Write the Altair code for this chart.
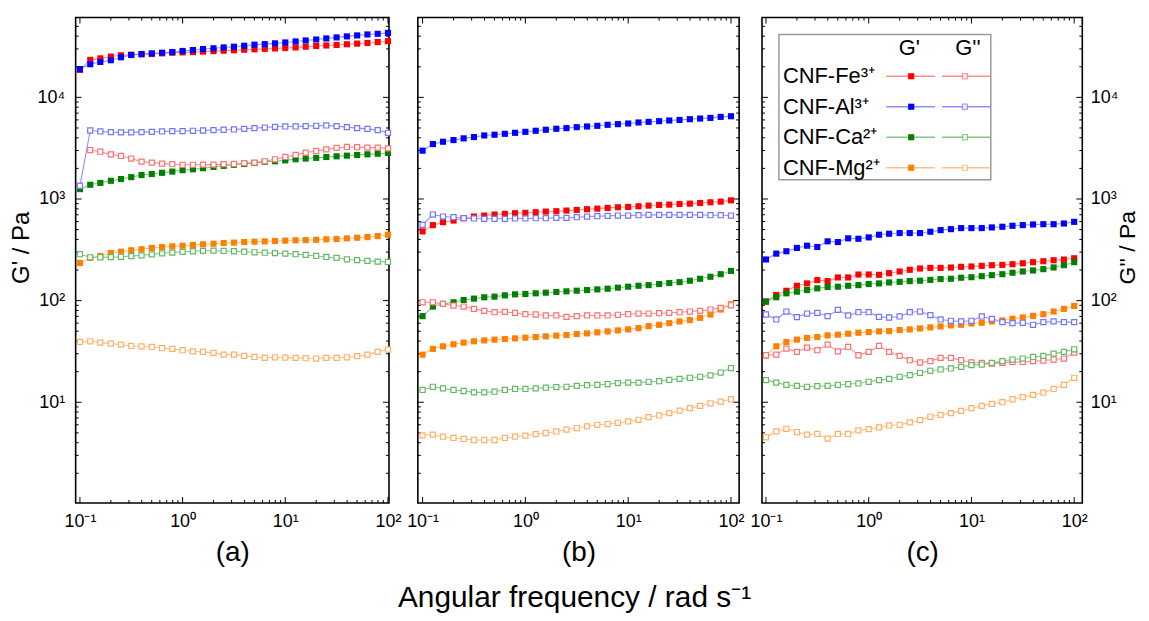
import altair as alt
import pandas as pd

# ---------------- data ----------------
FREQ = [0.1, 0.126, 0.158, 0.2, 0.251, 0.316, 0.398, 0.501, 0.631, 0.794,
        1.0, 1.26, 1.58, 2.0, 2.51, 3.16, 3.98, 5.01, 6.31, 7.94,
        10.0, 12.6, 15.8, 20.0, 25.1, 31.6, 39.8, 50.1, 63.1, 79.4, 100.0]

IONS = ["CNF-Fe³⁺", "CNF-Al³⁺", "CNF-Ca²⁺", "CNF-Mg²⁺"]
DARK = ["#ff0000", "#0000ff", "#008000", "#ff7f00"]
LIGHT = ["#ff7070", "#7373ff", "#66b866", "#ffb066"]

# panel (a)
A_FE_G1 = [18600, 23400, 24200, 25200, 25900, 26300, 26500, 26700, 27100, 27500, 27700, 27900, 28200, 28500, 28800, 29100,
           29400, 29700, 30000, 30300, 30600, 31000, 31500, 32000, 32400, 32800, 33300, 33800, 34300, 35000, 35700]
A_AL_G1 = [19000, 21200, 22300, 23200, 24800, 26100, 26700, 27100, 27500, 27900, 28600, 29200, 29900, 30400, 31000, 31500,
           32200, 33000, 33400, 34000, 34700, 35500, 36300, 37100, 38000, 38900, 39800, 40700, 41600, 42200, 43100]
A_CA_G1 = [1250, 1380, 1440, 1510, 1570, 1640, 1720, 1760, 1810, 1860, 1920, 1960, 2010, 2070, 2120, 2170,
           2210, 2260, 2320, 2350, 2400, 2460, 2500, 2540, 2590, 2630, 2670, 2710, 2750, 2790, 2840]
A_MG_G1 = [235, 263, 275, 294, 303, 313, 320, 330, 337, 342, 347, 353, 358, 363, 369, 372,
           377, 380, 383, 386, 389, 392, 394, 397, 401, 404, 410, 416, 422, 432, 445]
A_FE_G2 = [None, 3030, 2920, 2750, 2650, 2500, 2330, 2280, 2230, 2200, 2170, 2170, 2180, 2180, 2200, 2210,
           2250, 2280, 2350, 2460, 2590, 2710, 2860, 2970, 3080, 3180, 3250, 3230, 3200, 3200, 3150]
A_AL_G2 = [1350, 4720, 4620, 4550, 4520, 4520, 4550, 4580, 4620, 4650, 4650, 4690, 4720, 4760, 4800, 4830,
           4900, 4980, 5050, 5130, 5170, 5170, 5210, 5250, 5290, 5210, 5090, 4980, 4900, 4760, 4480]
A_CA_G2 = [286, 267, 267, 268, 270, 274, 279, 285, 292, 297, 302, 306, 309, 310, 308, 306,
           303, 299, 296, 293, 290, 286, 282, 275, 269, 263, 255, 250, 246, 242, 240]
A_MG_G2 = [39.2, 39.8, 38.6, 37.7, 36.9, 35.8, 35.5, 35.0, 34.0, 33.5, 32.5, 31.7, 31.3, 30.6, 29.4, 29.4,
           28.6, 27.9, 27.3, 27.7, 27.5, 27.3, 27.1, 26.9, 27.3, 27.3, 27.7, 28.4, 29.4, 31.3, 33.0]

# panel (b)
B_FE_G1 = [480, 553, 591, 614, 647, 672, 687, 703, 714, 724, 730, 741, 752, 758, 769, 781,
           793, 804, 817, 829, 835, 848, 861, 874, 880, 893, 900, 914, 928, 942, 970]
B_AL_G1 = [2990, 3470, 3660, 3800, 3950, 4070, 4220, 4290, 4380, 4480, 4580, 4690, 4800, 4910, 4980, 5090,
           5170, 5250, 5370, 5450, 5530, 5660, 5740, 5830, 5920, 6000, 6100, 6190, 6280, 6430, 6520]
B_CA_G1 = [70.3, 87.4, 92.8, 96.3, 101.5, 104.6, 107.8, 109.4, 112.7, 115.3, 116.2, 118, 119.7, 121.6, 123.4, 125.2,
           127.1, 129, 131, 134, 137, 140, 142, 145.5, 148.8, 152, 157, 164, 171.6, 182, 196]
B_MG_G1 = [29.4, 33.5, 35.5, 37.2, 38.6, 39.8, 40.6, 41.3, 41.9, 42.5, 43.2, 43.8, 44.5, 45.2, 45.8, 46.9,
           47.6, 48.7, 49.8, 50.9, 52.1, 53.6, 56.1, 57.8, 60.0, 62.4, 64.3, 67.7, 73.0, 81.7, 92.1]
B_FE_G2 = [96.3, 96.3, 92.8, 89.4, 87.4, 82.9, 79.3, 76.9, 77.4, 75.8, 73.5, 73.0, 71.4, 71.4, 69.2, 70.3,
           71.4, 71.4, 71.4, 72.5, 73.5, 74.6, 74.6, 75.2, 75.8, 76.9, 78.1, 79.3, 81.7, 84.8, 90.0]
B_AL_G2 = [557, 703, 672, 662, 647, 643, 638, 638, 638, 643, 643, 647, 647, 652, 652, 662,
           672, 677, 682, 687, 687, 692, 698, 698, 698, 698, 698, 698, 692, 692, 687]
B_CA_G2 = [13.2, 14.2, 13.7, 13.2, 12.9, 12.5, 12.5, 12.7, 13.2, 13.5, 13.5, 13.7, 13.9, 14.1, 14.2, 14.5,
           14.7, 14.8, 15.1, 15.4, 15.6, 15.6, 15.9, 16.1, 16.6, 17.0, 17.4, 17.8, 18.4, 19.6, 21.7]
B_MG_G2 = [4.72, 4.80, 4.58, 4.45, 4.35, 4.25, 4.25, 4.25, 4.45, 4.58, 4.69, 4.86, 4.98, 5.16, 5.37, 5.57,
           5.78, 6.00, 6.10, 6.28, 6.47, 6.72, 7.14, 7.41, 7.81, 8.28, 8.74, 9.21, 9.77, 10.15, 10.7]

# panel (c)
C_FE_G1 = [98, 113.6, 125, 140, 147.6, 159, 155.6, 169, 169, 180.7, 180.7, 179.5, 186.2, 193.5, 201, 207,
           210, 210, 211.7, 215, 216.6, 219.8, 223, 224.8, 228, 233, 238.8, 244, 249.6, 253.6, 261]
C_AL_G1 = [254, 290, 306, 330, 347, 337, 383, 377, 410, 406, 419, 445, 455, 462, 462, 462,
           476, 494, 505, 517, 517, 517, 525, 533, 545, 553, 561, 565, 565, 574, 596]
C_CA_G1 = [97.8, 107.8, 118, 122.4, 127, 132, 136, 137, 140, 142, 145.5, 147.6, 151, 153, 155.6, 157,
           160, 163, 164, 168, 170, 174, 178, 182, 188, 193.5, 198, 204, 212, 223, 239]
C_MG_G1 = [29, 35.5, 39.2, 41.3, 42.9, 43.8, 45.5, 46.2, 47.2, 48.3, 49, 49.8, 50.1, 51.3, 52.1, 53.2,
           54.5, 55.7, 57, 57.8, 59.6, 60.5, 62.4, 63.8, 66.2, 68.2, 70.8, 73.5, 78.1, 82.9, 88.7]
C_FE_G2 = [29, 29.4, 33.7, 31.3, 34.5, 32.5, 36.9, 31.7, 35, 29, 31.3, 35.8, 31.3, 28.6, 25.9, 24.6,
           25.4, 27.3, 27.3, 25.9, 24.6, 24.4, 24.0, 24.4, 24.9, 24.9, 25.4, 25.7, 26.3, 26.9, 30.8]
C_AL_G2 = [73, 65.2, 78.1, 68.8, 74.6, 75.8, 70.3, 81.1, 71.4, 76.9, 76.9, 69.2, 68.2, 69.8, 76.9, 78.1,
           71.9, 65.2, 63.3, 62.4, 63.3, 69.8, 66.2, 61.4, 60, 60.5, 57.8, 61.4, 62.4, 61.4, 61.4]
C_CA_G2 = [16.5, 15.6, 14.8, 14.5, 14.2, 14.4, 14.5, 14.8, 15.1, 15.3, 15.9, 16.5, 17.0, 17.8, 18.5, 19.5,
           20.4, 21.0, 21.5, 22.3, 23.2, 23.5, 24.4, 25.4, 26.3, 26.9, 27.9, 28.6, 30.1, 31.3, 33.2]
C_MG_G2 = [4.52, 5.17, 5.48, 5.09, 4.80, 4.87, 4.38, 4.87, 4.87, 5.28, 5.44, 5.65, 5.91, 6.0, 6.33, 6.67,
           7.19, 7.52, 7.81, 8.23, 8.74, 9.21, 9.63, 10.0, 10.7, 11.2, 11.8, 12.4, 13.5, 14.8, 17.4]

# axis ticks
X_MAJOR = [0.1, 1, 10, 100]
X_MINOR = [0.2, 0.3, 0.4, 0.5, 0.6, 0.7, 0.8, 0.9, 2, 3, 4, 5, 6, 7, 8, 9,
           20, 30, 40, 50, 60, 70, 80, 90]
Y_MAJOR = [10, 100, 1000, 10000]
Y_MINOR = [2, 3, 4, 5, 6, 7, 8, 9, 20, 30, 40, 50, 60, 70, 80, 90,
           200, 300, 400, 500, 600, 700, 800, 900, 2000, 3000, 4000, 5000, 6000, 7000, 8000, 9000,
           20000, 30000, 40000, 50000]
X_LABELS = "datum.value < 0.5 ? '10⁻¹' : datum.value < 5 ? '10⁰' : datum.value < 50 ? '10¹' : '10²'"
Y_LABELS = "datum.value < 50 ? '10¹' : datum.value < 500 ? '10²' : datum.value < 5000 ? '10³' : '10⁴'"

Y_DOMAIN = [1.02, 61000]
H = 488
FONT = "Liberation Sans"


def panel_df(series):
    rows = []
    for ion, g1, g2 in series:
        for f, v in zip(FREQ, g1):
            if v is not None:
                rows.append({"ion": ion, "kind": "storage", "w": f, "G": v})
        for f, v in zip(FREQ, g2):
            if v is not None:
                rows.append({"ion": ion, "kind": "loss", "w": f, "G": v})
    return pd.DataFrame(rows)


def make_panel(df, xdom, width, label, side, legend=False):
    xs = alt.Scale(type="log", domain=xdom, nice=False)
    ys = alt.Scale(type="log", domain=Y_DOMAIN, nice=False)
    xaxis = alt.Axis(values=X_MAJOR, labelExpr=X_LABELS, ticks=False, tickSize=0, domain=False, grid=False,
                     labelFontSize=18, labelPadding=10, labelFlush=False, labelOverlap=False,
                     labelColor="black", title=label, titleFontSize=28, titleFontWeight="normal",
                     titlePadding=8, titleColor="black")
    if side == "left":
        yaxis = alt.Axis(orient="left", values=Y_MAJOR, labelExpr=Y_LABELS, ticks=False, tickSize=0,
                         domain=False, grid=False, labelFontSize=18, labelPadding=11, labelColor="black",
                         title="G' / Pa", titleFontSize=24, titleFontWeight="normal", titlePadding=4,
                         titleY=231, titleColor="black")
    elif side == "right":
        yaxis = alt.Axis(orient="right", values=Y_MAJOR, labelExpr=Y_LABELS, ticks=False, tickSize=0,
                         domain=False, grid=False, labelFontSize=18, labelPadding=8, labelColor="black",
                         title="G'' / Pa", titleFontSize=23, titleFontWeight="normal", titlePadding=-1,
                         titleAngle=270, titleBaseline="top", titleY=231, titleColor="black")
    else:
        yaxis = None

    def X(field):
        return alt.X(field, scale=xs, axis=xaxis)

    def Y(field):
        return alt.Y(field, scale=ys, axis=yaxis)

    stroke_light = alt.Stroke("ion:N", scale=alt.Scale(domain=IONS, range=LIGHT), legend=None)
    fill_dark = alt.Fill("ion:N", scale=alt.Scale(domain=IONS, range=DARK), legend=None)
    base = alt.Chart(df)
    lines = base.mark_line(strokeWidth=1.1, strokeOpacity=0.8).encode(
        x=X("w:Q"), y=Y("G:Q"), stroke=stroke_light, detail="kind:N", order="w:Q")
    filled = base.transform_filter(alt.datum.kind == "storage").mark_square(size=38, opacity=1).encode(
        x=X("w:Q"), y=Y("G:Q"), fill=fill_dark)
    opened = base.transform_filter(alt.datum.kind == "loss").mark_square(
        size=26, filled=True, fill="white", fillOpacity=1, strokeWidth=1.2).encode(
        x=X("w:Q"), y=Y("G:Q"), stroke=stroke_light)

    layers = [lines]
    xmaj = pd.DataFrame({"w": [v for v in X_MAJOR if xdom[0] <= v <= xdom[1]]})
    xmin = pd.DataFrame({"w": [v for v in X_MINOR if xdom[0] <= v <= xdom[1]]})
    ymaj = pd.DataFrame({"G": Y_MAJOR})
    ymin = pd.DataFrame({"G": Y_MINOR})
    for tdf, L in ((xmaj, 6), (xmin, 3)):
        layers.append(alt.Chart(tdf).mark_rule(color="black", strokeWidth=1).encode(
            x=X("w:Q"), y=alt.value(H), y2=alt.value(H - L)))
        layers.append(alt.Chart(tdf).mark_rule(color="black", strokeWidth=1).encode(
            x=X("w:Q"), y=alt.value(0), y2=alt.value(L)))
    for tdf, L in ((ymaj, 6), (ymin, 3)):
        layers.append(alt.Chart(tdf).mark_rule(color="black", strokeWidth=1).encode(
            y=Y("G:Q"), x=alt.value(0), x2=alt.value(L)))
        layers.append(alt.Chart(tdf).mark_rule(color="black", strokeWidth=1).encode(
            y=Y("G:Q"), x=alt.value(width), x2=alt.value(width - L)))
    layers += [filled, opened]
    main = alt.layer(*layers)

    if not legend:
        return main.properties(width=width, height=H)

    # legend drawn inside panel (c)
    leg_df = pd.DataFrame({"ion": IONS})
    ly = alt.Y("ion:N", scale=alt.Scale(type="point", domain=IONS, range=[59, 151], padding=0), axis=None)
    lstroke = alt.Stroke("ion:N", scale=alt.Scale(domain=IONS, range=LIGHT), legend=None)
    lfill = alt.Fill("ion:N", scale=alt.Scale(domain=IONS, range=DARK), legend=None)
    box = alt.Chart(pd.DataFrame({"k": [0]})).mark_rect(fill="white", stroke="#9a9a9a", strokeWidth=1.5).encode(
        x=alt.value(17), x2=alt.value(230), y=alt.value(17), y2=alt.value(163))
    heads = alt.Chart(pd.DataFrame({"h": ["G'", "G''"]})).mark_text(
        fontSize=22, baseline="middle", align="center", color="black").encode(
        x=alt.X("h:N", scale=alt.Scale(type="point", domain=["G'", "G''"], range=[148, 207], padding=0), axis=None),
        y=alt.value(31), text="h:N")
    names = alt.Chart(leg_df).mark_text(fontSize=22, baseline="middle", align="left", color="black").encode(
        x=alt.value(21), y=ly, text="ion:N")
    seg1 = alt.Chart(leg_df).mark_rule(strokeWidth=1.3, strokeOpacity=0.8).encode(
        x=alt.value(125), x2=alt.value(174), y=ly, stroke=lstroke)
    seg2 = alt.Chart(leg_df).mark_rule(strokeWidth=1.3, strokeOpacity=0.8).encode(
        x=alt.value(181), x2=alt.value(230), y=ly, stroke=lstroke)
    sq1 = alt.Chart(leg_df).mark_square(size=38, opacity=1).encode(x=alt.value(150), y=ly, fill=lfill)
    sq2 = alt.Chart(leg_df).mark_square(size=26, filled=True, fill="white", strokeWidth=1.2).encode(
        x=alt.value(204), y=ly, stroke=lstroke)
    leg = alt.layer(box, heads, names, seg1, seg2, sq1, sq2)
    return alt.layer(main, leg).resolve_scale(x="independent", y="independent").properties(width=width, height=H)


df_a = panel_df([(IONS[0], A_FE_G1, A_FE_G2), (IONS[1], A_AL_G1, A_AL_G2),
                 (IONS[2], A_CA_G1, A_CA_G2), (IONS[3], A_MG_G1, A_MG_G2)])
df_b = panel_df([(IONS[0], B_FE_G1, B_FE_G2), (IONS[1], B_AL_G1, B_AL_G2),
                 (IONS[2], B_CA_G1, B_CA_G2), (IONS[3], B_MG_G1, B_MG_G2)])
df_c = panel_df([(IONS[0], C_FE_G1, C_FE_G2), (IONS[1], C_AL_G1, C_AL_G2),
                 (IONS[2], C_CA_G1, C_CA_G2), (IONS[3], C_MG_G1, C_MG_G2)])

pa = make_panel(df_a, [0.0908, 102.3], 315, "(a)", "left")
pb = make_panel(df_b, [0.0899, 120], 323, "(b)", "none")
pc = make_panel(df_c, [0.0915, 120], 322, "(c)", "right", legend=True)

chart = alt.hconcat(
    pa,
    alt.hconcat(pb, pc, spacing=23, bounds="flush"),
    spacing=29, bounds="flush",
).properties(
    title=alt.TitleParams("Angular frequency / rad s⁻¹", orient="bottom", anchor="middle",
                          fontSize=30, fontWeight="normal", font=FONT, color="black", offset=16),
    padding={"left": 0, "top": 6, "right": 0, "bottom": 0},
).configure(font=FONT).configure_view(stroke="black", strokeWidth=1.6).configure_axis(
    labelFont=FONT, titleFont=FONT).configure_text(font=FONT)

chart.save("out.html", embed_options={"renderer": "svg", "actions": False})
